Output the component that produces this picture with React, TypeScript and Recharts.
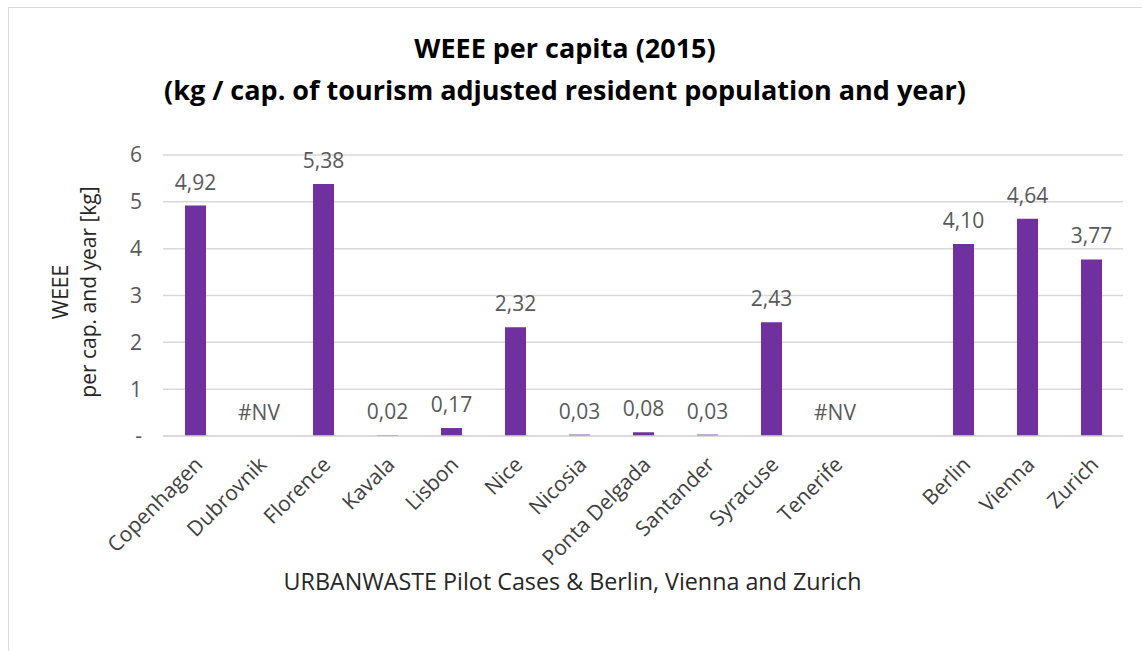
import React from 'react';
import { BarChart, Bar, XAxis, YAxis, CartesianGrid, LabelList, ReferenceDot } from 'recharts';

// categories (empty string = spacer slot between pilot cases and reference cities)
const cities = [
  'Copenhagen', 'Dubrovnik', 'Florence', 'Kavala', 'Lisbon', 'Nice', 'Nicosia',
  'Ponta Delgada', 'Santander', 'Syracuse', 'Tenerife', '', 'Berlin', 'Vienna', 'Zurich'
];
// kg per capita and year, null = no value
const weee = [4.92, null, 5.38, 0.02, 0.17, 2.32, 0.03, 0.08, 0.03, 2.43, null, null, 4.10, 4.64, 3.77];
// cities shown as "#NV" (no value)
const noValue = ['Dubrovnik', 'Tenerife'];
const yTicks = [0, 1, 2, 3, 4, 5, 6];

const data = cities.map((city, i) => ({ city, value: weee[i] }));

const FONT = '"Open Sans", sans-serif';
const BAR_COLOR = '#7030A0';
const LABEL_GRAY = '#595959';

const fmt = (v: number) => v.toFixed(2).replace('.', ',');

const renderValueLabel = (props: any) => {
  const { x, y, width, value } = props;
  if (value == null) return null;
  return (
    <text x={x + width / 2} y={y - 16} textAnchor="middle" fill={LABEL_GRAY} fontSize={21} fontFamily={FONT}>
      {fmt(value)}
    </text>
  );
};

const NvLabel = (props: any) => {
  const { viewBox } = props;
  return (
    <text x={viewBox.x + viewBox.width / 2} y={viewBox.y - 16} textAnchor="middle" fill={LABEL_GRAY} fontSize={21} fontFamily={FONT}>
      #NV
    </text>
  );
};

const CityTick = ({ x, y, payload }: any) => (
  <g transform={`translate(${x - 1},${y + 12})`}>
    <text x={0} y={0} dy={14} textAnchor="end" transform="rotate(-45)" fill="#404040" fontSize={21} fontFamily={FONT}>
      {payload.value}
    </text>
  </g>
);

export default function App() {
  return (
    <div style={{ position: 'absolute', left: 0, top: 0, width: 1142, height: 651, overflow: 'hidden', background: '#fff', fontFamily: FONT }}>
      <div style={{ position: 'absolute', left: 8, top: 7, width: 1300, height: 800, border: '1px solid #d9d9d9' }} />
      <div style={{ position: 'absolute', left: 0, width: 1130, top: 27, textAlign: 'center', fontWeight: 700, fontSize: 27, lineHeight: '42px', color: '#000' }}>
        WEEE per capita (2015)<br />(kg / cap. of tourism adjusted resident population and year)
      </div>
      <div style={{ position: 'absolute', left: 74, top: 292, width: 0, height: 0 }}>
        <div style={{ position: 'absolute', transform: 'translate(-50%,-50%) rotate(-90deg)', whiteSpace: 'nowrap', textAlign: 'center', fontSize: 21, lineHeight: '28px', color: '#262626' }}>
          WEEE<br />per cap. and year [kg]
        </div>
      </div>
      <div style={{ position: 'absolute', left: 0, width: 1145, top: 565, textAlign: 'center', fontSize: 23.3, color: '#262626' }}>
        URBANWASTE Pilot Cases &amp; Berlin, Vienna and Zurich
      </div>
      <div style={{ position: 'absolute', left: 0, top: 0 }}>
        <BarChart
          width={1142}
          height={651}
          data={data}
          margin={{ top: 155, right: 19, bottom: 185, left: 123 }}
        >
          <CartesianGrid vertical={false} stroke="#d9d9d9" strokeWidth={1.5} />
          <XAxis
            dataKey="city"
            interval={0}
            tickLine={false}
            axisLine={{ stroke: '#d9d9d9', strokeWidth: 1.5 }}
            tick={<CityTick />}
            height={30}
          />
          <YAxis
            width={40}
            domain={[0, 6]}
            ticks={yTicks}
            tickLine={false}
            axisLine={false}
            tickMargin={15}
            tickFormatter={(v: number) => (v === 0 ? '-' : String(v))}
            tick={{ fill: LABEL_GRAY, fontSize: 21, fontFamily: FONT }}
          />
          <Bar dataKey="value" fill={BAR_COLOR} barSize={21} isAnimationActive={false}>
            <LabelList dataKey="value" content={renderValueLabel} />
          </Bar>
          {noValue.map((c) => (
            <ReferenceDot key={c} x={c} y={0} r={0} fill="none" stroke="none" label={<NvLabel />} />
          ))}
        </BarChart>
      </div>
    </div>
  );
}
